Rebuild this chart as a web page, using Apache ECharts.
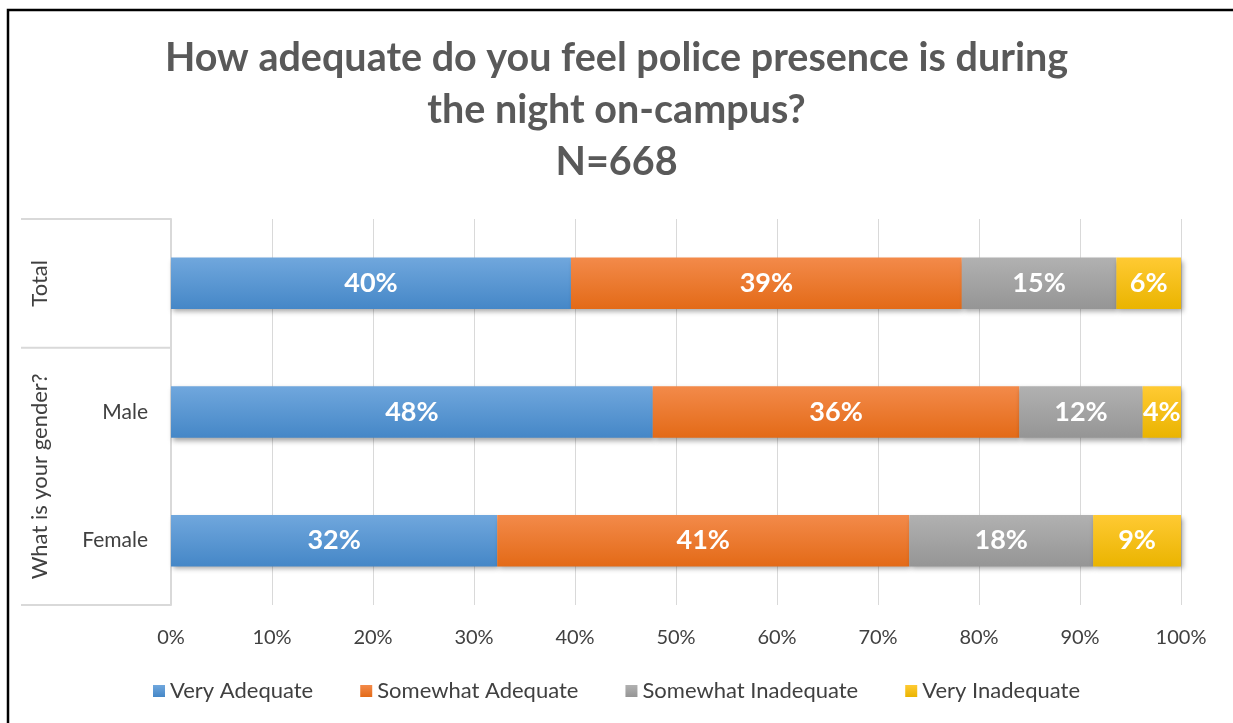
<!DOCTYPE html>
<html>
<head>
<meta charset="utf-8">
<script src="https://cdn.jsdelivr.net/npm/echarts@6/dist/echarts.min.js"></script>
<style>
  html, body { margin: 0; padding: 0; background: #fff; }
  #chart { width: 1233px; height: 723px; }
</style>
</head>
<body>
<div id="chart"></div>
<script>
// Survey categories (bottom to top on the category axis)
const categories = ['Female', 'Male', 'Total'];
const seriesNames = ['Very Adequate', 'Somewhat Adequate', 'Somewhat Inadequate', 'Very Inadequate'];
// Percent of respondents per answer, per category
const veryAdequate       = [32.3, 47.7, 39.6];
const somewhatAdequate   = [40.8, 36.3, 38.7];
const somewhatInadequate = [18.2, 12.2, 15.3];
const veryInadequate     = [8.7, 3.8, 6.4];
const xTicks = [0, 10, 20, 30, 40, 50, 60, 70, 80, 90, 100];

const FONT = 'Lato, "Open Sans", sans-serif';
const palette = [
  ['#70a7dd', '#4587c7'],
  ['#f38a4a', '#e36a17'],
  ['#b1b1b1', '#959595'],
  ['#ffca33', '#eab400']
];
const values = [veryAdequate, somewhatAdequate, somewhatInadequate, veryInadequate];

function grad(c) {
  return new echarts.graphic.LinearGradient(0, 0, 0, 1, [
    { offset: 0, color: c[0] },
    { offset: 1, color: c[1] }
  ]);
}

const chart = echarts.init(document.getElementById('chart'), null, { renderer: 'canvas' });

const series = seriesNames.map((name, i) => ({
  name: name,
  type: 'bar',
  stack: 'all',
  barWidth: '40%',
  data: values[i],
  itemStyle: {
    color: grad(palette[i]),
    shadowColor: 'rgba(0,0,0,0.35)',
    shadowBlur: 5,
    shadowOffsetX: 2,
    shadowOffsetY: 3
  },
  label: {
    show: true,
    position: 'inside',
    color: '#ffffff',
    fontFamily: FONT,
    fontWeight: 'bold',
    fontSize: 27,
    formatter: p => Math.round(p.value) + '%'
  },
  emphasis: { disabled: true }
}));

chart.setOption({
  animation: false,
  backgroundColor: '#ffffff',
  title: {
    text: 'How adequate do you feel police presence is during\nthe night on-campus?\nN=668',
    left: 'center',
    top: 27,
    textStyle: {
      fontFamily: FONT,
      fontWeight: 'bold',
      fontSize: 39.5,
      lineHeight: 52,
      color: '#595959'
    }
  },
  legend: {
    bottom: 16,
    left: 'center',
    icon: 'rect',
    itemWidth: 12,
    itemHeight: 12,
    itemGap: 47,
    textStyle: { fontFamily: FONT, fontSize: 22, color: '#404040' },
    data: seriesNames
  },
  grid: { left: 171, right: 52, top: 219, bottom: 118 },
  xAxis: {
    type: 'value',
    min: xTicks[0],
    max: xTicks[xTicks.length - 1],
    interval: xTicks[1] - xTicks[0],
    axisLine: { show: false },
    axisTick: { show: false },
    splitLine: { lineStyle: { color: '#d9d9d9', width: 1 } },
    axisLabel: {
      margin: 23,
      fontFamily: FONT,
      fontSize: 20,
      color: '#404040',
      formatter: '{value}%'
    }
  },
  yAxis: {
    type: 'category',
    data: categories,
    axisLine: { show: true, lineStyle: { color: '#d9d9d9', width: 2 } },
    axisTick: { show: false },
    axisLabel: {
      margin: 23,
      fontFamily: FONT,
      fontSize: 21,
      color: '#404040',
      formatter: v => (v === 'Total' ? '' : v)
    }
  },
  series: series
});

// Group labels and separators for the two-level category axis
function drawGroups() {
  const cTotal = chart.convertToPixel({ yAxisIndex: 0 }, 'Total');
  const cMale = chart.convertToPixel({ yAxisIndex: 0 }, 'Male');
  const cFemale = chart.convertToPixel({ yAxisIndex: 0 }, 'Female');
  const band = cMale - cTotal;
  const yTop = cTotal - band / 2;
  const ySplit = cTotal + band / 2;
  const yBottom = cFemale + band / 2;
  const xAxisPos = chart.convertToPixel({ xAxisIndex: 0 }, 0);
  const x0 = 21;
  const lineStyle = { stroke: '#d9d9d9', lineWidth: 2 };
  const txt = { fontFamily: FONT, fontSize: 22, fill: '#404040', align: 'center', verticalAlign: 'middle' };
  chart.setOption({
    graphic: [
      { type: 'rect', silent: true, shape: { x: 8, y: 10, width: 1250, height: 740 },
        style: { fill: 'none', stroke: '#000000', lineWidth: 2.5 } },
      { type: 'line', silent: true, shape: { x1: x0, y1: yTop, x2: xAxisPos, y2: yTop }, style: lineStyle },
      { type: 'line', silent: true, shape: { x1: x0, y1: ySplit, x2: xAxisPos, y2: ySplit }, style: lineStyle },
      { type: 'line', silent: true, shape: { x1: x0, y1: yBottom, x2: xAxisPos, y2: yBottom }, style: lineStyle },
      { type: 'text', silent: true, x: 40, y: cTotal, rotation: Math.PI / 2,
        style: Object.assign({ text: 'Total' }, txt) },
      { type: 'text', silent: true, x: 40, y: (cMale + cFemale) / 2, rotation: Math.PI / 2,
        style: Object.assign({ text: 'What is your gender?' }, txt) }
    ]
  });
}
drawGroups();
</script>
</body>
</html>
